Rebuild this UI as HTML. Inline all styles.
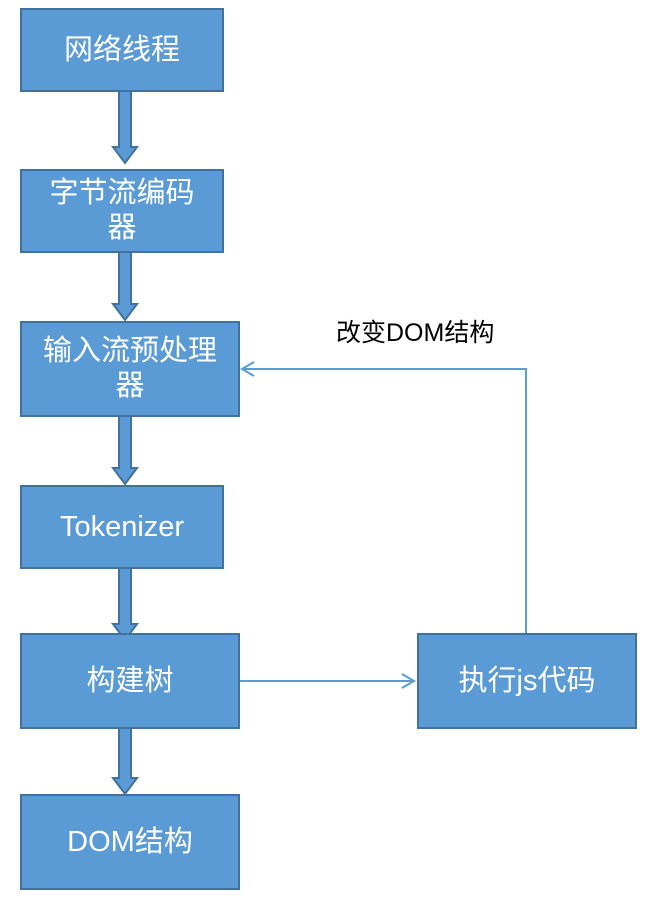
<!DOCTYPE html>
<html><head><meta charset="utf-8"><style>
body{margin:0;width:650px;height:902px;background:#fff;position:relative;font-family:"Liberation Sans","Noto Sans CJK SC",sans-serif;overflow:hidden}
.b{position:absolute;background:#5b9bd5;border:2px solid #41719c;box-sizing:border-box;color:#fff;font-size:29px;line-height:35px;display:flex;align-items:center;justify-content:center;text-align:center}
svg{position:absolute;left:0;top:0}
</style></head><body>
<svg width="650" height="902">
<g fill="#5b9bd5" stroke="#41719c" stroke-width="2">
<polygon points="119,91 131,91 131,147 137,147 125,163 113,147 119,147"/>
<polygon points="119,252 131,252 131,304 137,304 125,320 113,304 119,304"/>
<polygon points="119,416 131,416 131,468 137,468 125,484 113,468 119,468"/>
<polygon points="119,568 131,568 131,624 137,624 125,640 113,624 119,624"/>
<polygon points="119,728 131,728 131,778 137,778 125,794 113,778 119,778"/>
</g>
<g fill="none" stroke="#5b9bd5" stroke-width="2">
<polyline points="526,633 526,369 242,369"/>
<polyline points="254,362 242,369 254,376"/>
<line x1="240" y1="681" x2="414" y2="681"/>
<polyline points="402,674 414,681 402,688"/>
</g>
</svg>
<div class="b" style="left:20px;top:8px;width:204px;height:84px">网络线程</div>
<div class="b" style="left:20px;top:169px;width:204px;height:84px">字节流编码<br>器</div>
<div class="b" style="left:20px;top:321px;width:220px;height:96px">输入流预处理<br>器</div>
<div class="b" style="left:20px;top:485px;width:204px;height:84px">Tokenizer</div>
<div class="b" style="left:20px;top:633px;width:220px;height:96px">构建树</div>
<div class="b" style="left:20px;top:794px;width:220px;height:96px">DOM结构</div>
<div class="b" style="left:417px;top:633px;width:220px;height:96px">执行js代码</div>
<div style="position:absolute;left:336px;top:317px;font-size:25px;color:#000;line-height:32px">改变DOM结构</div>
</body></html>
